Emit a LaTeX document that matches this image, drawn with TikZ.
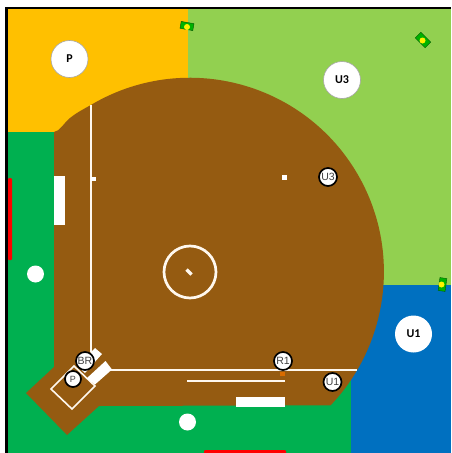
\documentclass[tikz,border=0pt]{standalone}
\usepackage{fontspec}
\setmainfont{Carlito}
\newfontfamily\playerfont{Liberation Sans}
\usepackage{xcolor}
\usetikzlibrary{positioning}
\definecolor{foulorange}{HTML}{FFC000}
\definecolor{fairgreen}{HTML}{92D050}
\definecolor{zoneblue}{HTML}{0070C0}
\definecolor{turfgreen}{HTML}{00B050}
\definecolor{dirtbrown}{HTML}{955B11}
\definecolor{chalk}{HTML}{FFF8EE}

\begin{document}
\begin{tikzpicture}[
    x=1pt, y=-1pt,
    every node/.style={inner sep=0pt},
    zone/.style={circle, draw=gray!70, fill=white, line width=0.6pt, minimum size=37pt, font=\bfseries\fontsize{12}{12}\selectfont},
    player/.style={circle, draw=black, fill=white, line width=1.7pt, minimum size=18pt, text=black!75, font=\playerfont\fontsize{10.5}{11}\selectfont},
    runner/.style={player, minimum size=16pt, font=\playerfont\fontsize{9}{10}\selectfont},
    flagbox/.style={rectangle, draw=green!35!black, fill=green!70!black, line width=0.4pt},
    flagdot/.style={circle, fill=yellow, minimum size=6pt},
    spot/.style={circle, fill=white, minimum size=17pt},
    chalkline/.style={draw=chalk, line width=2.2pt}
]
\useasboundingbox (0,0) rectangle (451,453);
\fill[white] (0,0) rectangle (451,453);

% field areas
\fill[turfgreen] (7,9) rectangle (451,453);
\fill[foulorange] (7,9) rectangle (188,132);
\fill[fairgreen] (188,9) rectangle (451,285);
\fill[zoneblue] (351,285) rectangle (451,453);

% infield dirt
\fill[dirtbrown] (54,132) .. controls (60,131) and (63,124) .. (70,118)
    .. controls (76,113) and (82,110) .. (90.3,105.3)
    arc[start angle=-120.9, end angle=43.5, radius=194]
    -- (99,406) -- (67,435) -- (26,393) -- (54,367) -- cycle;

% outer border
\fill[black] (5,6.5) rectangle (451,9);
\fill[black] (5,6.5) rectangle (8,453);
\fill[red, rounded corners=1pt] (8,178) rectangle (12,260);
\fill[red, rounded corners=1pt] (204,450) rectangle (286,454);

% chalk lines and bases
\draw[chalkline] (91,105) -- (91,352);
\draw[chalkline] (108,370) -- (357,370);
\draw[chalkline] (187,381) -- (285,381);
\draw[chalkline, line width=1.6pt] (51,389) -- (72,409) -- (95,386) -- (74,366) -- cycle;
\fill[white] (95,348) -- (102,354) -- (85,373) -- (77,366) -- cycle;
\fill[white] (86.5,378.5) -- (105.5,361) -- (112,369.5) -- (95,384.5) -- cycle;
\fill[white] (54,176) rectangle (65,225);
\fill[white] (236,397) rectangle (285,407);
\fill[white] (91,177) rectangle (95.5,181);
\fill[white] (281.5,174.5) rectangle (287,179.5);
\fill[orange!85!black] (279.5,371.5) rectangle (284.5,375.5);

% pitching circle
\node (circle) [circle, draw=chalk, line width=2.7pt, minimum size=52pt] at (190,272) {};
\draw[chalk, line width=3.2pt] (186.5,269.5) -- (191.5,274.5);

% spare balls
\node (ball1) [spot] at (35.5,274) {};
\node (ball2) [spot] at (187.5,422) {};

% flags
\node (flag1) [flagbox, minimum width=13pt, minimum height=7pt, rotate=-10] at (187,26) {};
\node (dot1) [flagdot] at (187,27) {};
\node (flag2) [flagbox, minimum width=14pt, minimum height=8pt, rotate=-45] at (423,40) {};
\node (dot2) [flagdot] at (422.5,40.5) {};
\node (flag3) [flagbox, minimum width=7pt, minimum height=13pt, rotate=-8] at (442.5,284.5) {};
\node (dot3) [flagdot] at (441.5,284.5) {};

% zones
\node (zoneP) [zone] at (69.5,59) {P};
\node (zoneUthree) [zone] at (342,80) {U3};
\node (zoneUone) [zone, draw=none] at (413.5,334) {U1};

% players
\node (uthree) [player] at (328,177) {U3};
\node (rone) [player] at (283,361) {R1};
\node (uone) [player] at (332.5,382) {U1};
\node (br) [player] at (85,361) {BR};
\node (p) [runner] at (73,379) {P};
\end{tikzpicture}
\end{document}
